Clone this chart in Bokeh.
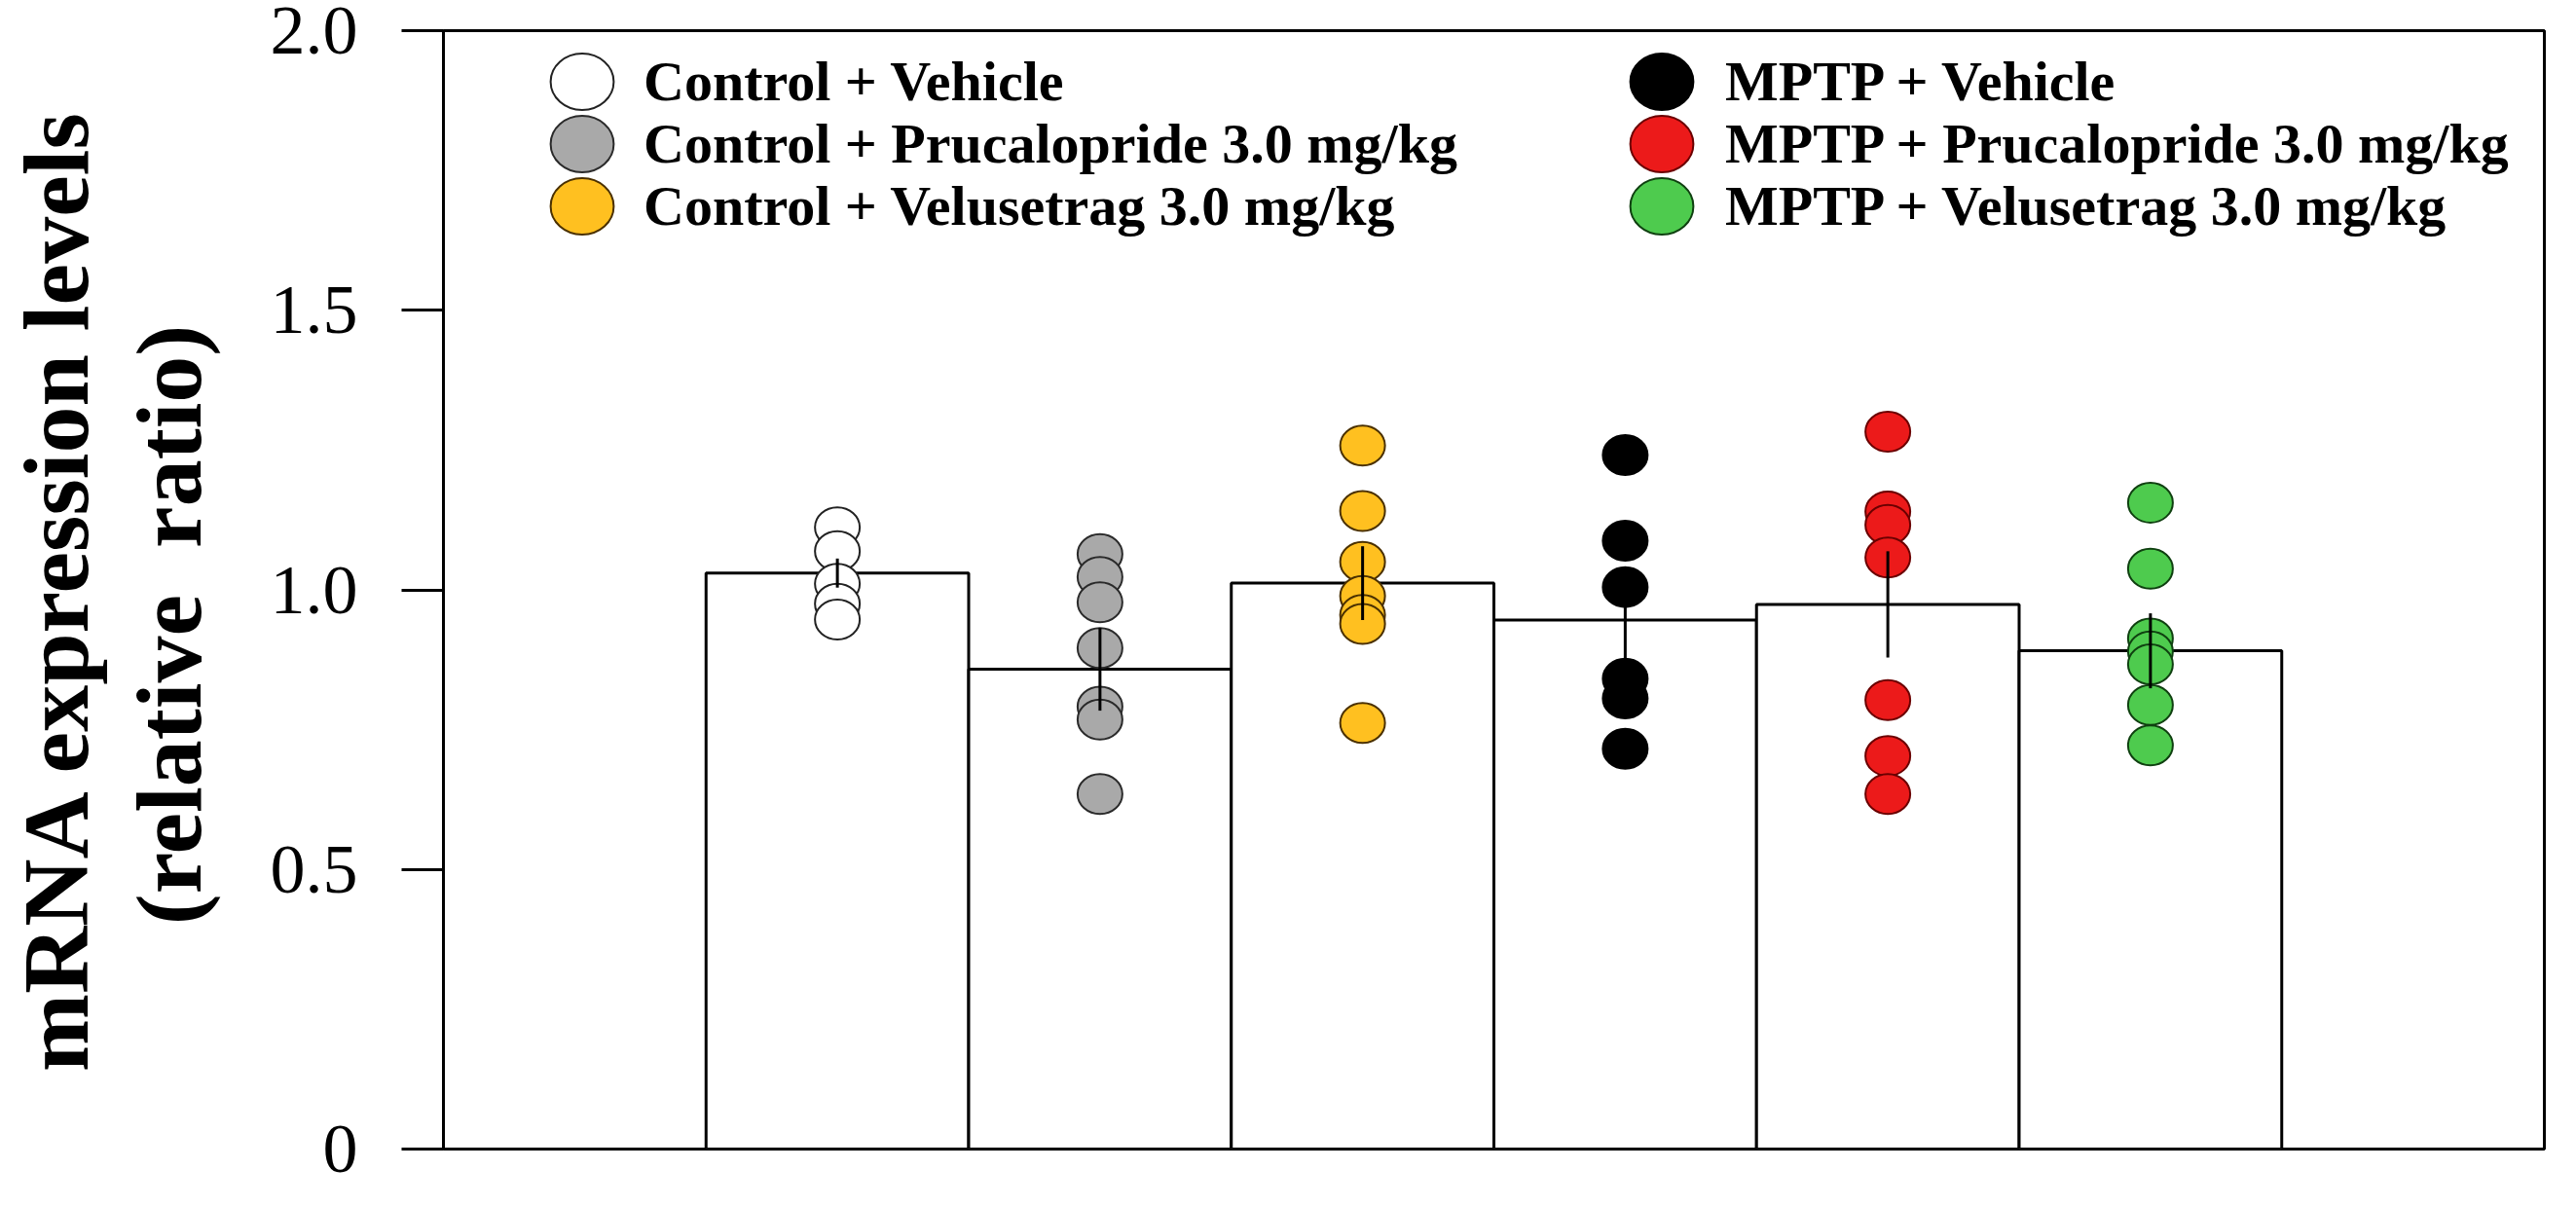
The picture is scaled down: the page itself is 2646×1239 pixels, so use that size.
from bokeh.plotting import figure
from bokeh.models import (Range1d, LinearAxis, FixedTicker, CustomJSTickFormatter,
                          Legend, LegendItem)
from bokeh.embed import file_html
from bokeh.resources import INLINE

# ---- data ----
groups = ["Control + Vehicle",
          "Control + Prucalopride 3.0 mg/kg",
          "Control + Velusetrag 3.0 mg/kg",
          "MPTP + Vehicle",
          "MPTP + Prucalopride 3.0 mg/kg",
          "MPTP + Velusetrag 3.0 mg/kg"]
means = [1.030, 0.858, 1.012, 0.946, 0.974, 0.891]
sems = [0.026, 0.074, 0.066, 0.080, 0.095, 0.067]
ctrl_vehicle = [1.112, 1.069, 1.011, 0.975, 0.947]
ctrl_pruca = [1.064, 1.023, 0.978, 0.896, 0.791, 0.768, 0.635]
ctrl_velu = [1.258, 1.141, 1.050, 0.989, 0.955, 0.939, 0.762]
mptp_vehicle = [1.241, 1.088, 1.005, 0.841, 0.806, 0.716]
mptp_pruca = [1.283, 1.140, 1.116, 1.058, 0.803, 0.703, 0.635]
mptp_velu = [1.156, 1.038, 0.913, 0.890, 0.867, 0.794, 0.722]
points = [ctrl_vehicle, ctrl_pruca, ctrl_velu, mptp_vehicle, mptp_pruca, mptp_velu]
colors = ["#ffffff", "#a9a9a9", "#ffc020", "#000000", "#ec1a1a", "#4ecb4e"]
edge_colors = ["#222222", "#2a2a2a", "#4a3000", "#000000", "#6a0000", "#0f4010"]
y_ticks = [0, 0.5, 1.0, 1.5, 2.0]

SERIF = "Liberation Serif"
NB = "\u00a0"

p = figure(width=2630, height=1223, output_backend="svg", toolbar_location=None,
           x_range=Range1d(0, 8), y_range=Range1d(0, 2.0),
           x_axis_location=None, min_border_left=447, min_border_right=17,
           min_border_top=31, min_border_bottom=43)
p.grid.visible = False
p.outline_line_color = "black"
p.outline_line_width = 3
p.background_fill_color = "white"
p.border_fill_color = "white"

# bars
xs = [i + 1.5 for i in range(len(groups))]
p.vbar(x=xs, top=means, width=1.0, bottom=0, fill_color="white",
       line_color="black", line_width=3)

# points
renderers = []
for i, vals in enumerate(points):
    r = p.ellipse(x=[xs[i]] * len(vals), y=vals, width=46, height=41,
                  width_units="screen", height_units="screen",
                  fill_color=colors[i], line_color=edge_colors[i], line_width=2)
    renderers.append(r)

# error bars (mean +/- SEM)
p.segment(x0=xs, x1=xs, y0=[m - s for m, s in zip(means, sems)],
          y1=[m + s for m, s in zip(means, sems)], line_color="black", line_width=3)

# y axis
ax = p.yaxis[0]
ax.ticker = FixedTicker(ticks=y_ticks)
ax.formatter = CustomJSTickFormatter(code="return tick == 0 ? '0' : tick.toFixed(1);")
ax.axis_line_width = 3
ax.major_tick_line_width = 3
ax.major_tick_out = 43
ax.major_tick_in = 0
ax.minor_tick_out = 0
ax.minor_tick_in = 0
ax.major_label_text_font = SERIF
ax.major_label_text_font_size = "72px"
ax.major_label_text_color = "black"
ax.major_label_standoff = 45
ax.axis_label = "(relative" + NB + " ratio)" + NB * 3
ax.axis_label_text_font = SERIF
ax.axis_label_text_font_style = "bold"
ax.axis_label_text_font_size = "96px"
ax.axis_label_text_color = "black"
ax.axis_label_standoff = 48

ax2 = LinearAxis(ticker=FixedTicker(ticks=[]), axis_line_color=None,
                 major_tick_out=0, major_tick_in=0, minor_tick_out=0, minor_tick_in=0,
                 axis_label="mRNA expression levels", axis_label_text_font=SERIF,
                 axis_label_text_font_style="bold", axis_label_text_font_size="96px",
                 axis_label_text_color="black", axis_label_standoff=6)
p.add_layout(ax2, "left")

# legends: one entry per legend so that rows can be packed closely
FRAME_H = 1223 - 31 - 43
row_centres = [52, 116, 180]          # px below the frame top
GLYPH = 81

def add_entry(i, left, row, standoff):
    bottom = FRAME_H - (row_centres[row] + GLYPH / 2)
    lg = Legend(items=[LegendItem(label=groups[i], renderers=[renderers[i]])],
                location=(left, bottom), glyph_width=GLYPH, glyph_height=GLYPH,
                spacing=0, padding=0, margin=0, label_standoff=standoff,
                label_text_font=SERIF, label_text_font_style="bold",
                label_text_font_size="58px", label_text_color="black",
                label_text_baseline="middle",
                border_line_color=None, background_fill_alpha=0)
    p.add_layout(lg, "center")

for k in range(3):
    add_entry(k, 102, k, 23)
    add_entry(k + 3, 1211, k, 25)

open("out.html", "w").write(file_html(p, INLINE))
